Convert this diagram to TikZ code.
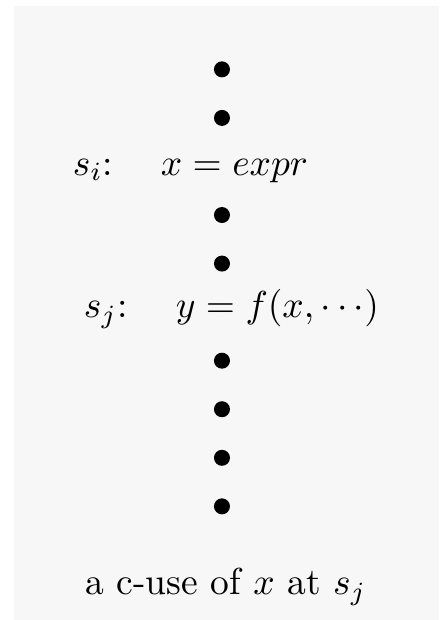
\documentclass[tikz,border=0pt]{standalone}
\definecolor{panel}{HTML}{F7F7F7}
\tikzset{
    stmt/.style={circle, fill=black, inner sep=0pt, minimum size=0.15cm},
    code/.style={anchor=base west, inner sep=0pt},
    caption/.style={anchor=base, inner sep=0pt},
}
\begin{document}
\begin{tikzpicture}

    \useasboundingbox (0,0) rectangle (4.115,-5.81);
    \fill[panel] (0.131,-0.056) rectangle (4.115,-5.81);

    \foreach \i/\y in {1/-0.65, 2/-1.105, 3/-2.015, 4/-2.47,
                       5/-3.38, 6/-3.835, 7/-4.29, 8/-4.745}
        \node[stmt] (d\i) at (2.08,\y) {};

    \node[code] (si) at (0.675,-1.64) {$s_i$:};
    \node[code] (defx) at (1.50,-1.64) {$x = expr$};
    \node[code] (sj) at (0.778,-2.98) {$s_j$:};
    \node[code] (usex) at (1.64,-2.98) {$y = f(x, \cdots)$};
    \node[caption] (cuse) at (2.118,-5.575) {a c-use of $x$ at $s_j$};

\end{tikzpicture}
\end{document}
